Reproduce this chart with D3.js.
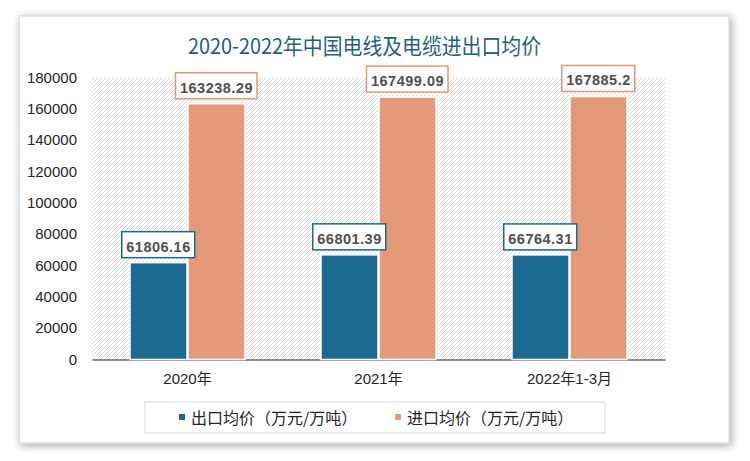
<!DOCTYPE html>
<html><head><meta charset="utf-8">
<script src="https://cdn.jsdelivr.net/npm/d3@7"></script>
<style>body{margin:0;background:#fff;}svg{display:block;}</style>
</head><body>
<svg id="c" width="750" height="461"></svg>
<script>
const title = "2020-2022年中国电线及电缆进出口均价";
const categories = ["2020年", "2021年", "2022年1-3月"];
const seriesNames = ["出口均价（万元/万吨）", "进口均价（万元/万吨）"];
const exportValues = [61806.16, 66801.39, 66764.31];
const importValues = [163238.29, 167499.09, 167885.2];
const exportLabels = ["61806.16", "66801.39", "66764.31"];
const importLabels = ["163238.29", "167499.09", "167885.2"];
const yTicks = [0, 20000, 40000, 60000, 80000, 100000, 120000, 140000, 160000, 180000];
const colors = ["#1b6a8f", "#e49a78"];

const svg = d3.select("#c");
const defs = svg.append("defs");
const f = defs.append("filter").attr("id","sh").attr("x","-10%").attr("y","-10%").attr("width","120%").attr("height","120%");
f.append("feGaussianBlur").attr("in","SourceAlpha").attr("stdDeviation",4);
f.append("feOffset").attr("dx",2).attr("dy",2).attr("result","b");
f.append("feComponentTransfer").append("feFuncA").attr("type","linear").attr("slope",0.35);
const m = f.append("feMerge"); m.append("feMergeNode"); m.append("feMergeNode").attr("in","SourceGraphic");
const pat = defs.append("pattern").attr("id","hatch").attr("patternUnits","userSpaceOnUse").attr("width",4).attr("height",4);
pat.append("rect").attr("width",4).attr("height",4).attr("fill","#fff");
pat.append("path").attr("d","M-1,1 l2,-2 M0,4 l4,-4 M3,5 l2,-2").attr("stroke","#d9d9d9").attr("stroke-width",1);

svg.append("rect").attr("x",19).attr("y",16).attr("width",710).attr("height",427)
  .attr("fill","#fff").attr("stroke","#dcdcdc").attr("stroke-width",1.5).attr("filter","url(#sh)");

svg.append("text").attr("x",364.5).attr("y",54).attr("text-anchor","middle")
  .attr("font-family","'Noto Sans CJK SC', sans-serif").attr("font-size",21.5).attr("fill","#1f5f86")
  .attr("textLength",353).attr("lengthAdjust","spacingAndGlyphs")
  .text(title);

const L=92, R=665, T=77.5, B=359.5;
const x = d3.scaleBand().domain(categories).range([L,R]);
const y = d3.scaleLinear().domain([0,180000]).range([B,T]);

svg.append("rect").attr("x",L).attr("y",T).attr("width",R-L).attr("height",B-T).attr("fill","url(#hatch)");

const yAxis = svg.append("g").attr("transform",`translate(${L},0)`)
  .call(d3.axisLeft(y).tickValues(yTicks).tickFormat(d3.format("d")).tickSize(0).tickPadding(15));
yAxis.select(".domain").remove();
yAxis.selectAll("text").attr("font-family","'Liberation Sans', Arial, sans-serif").attr("font-size",15).attr("fill","#262626");

const xAxis = svg.append("g").attr("transform",`translate(0,${B})`)
  .call(d3.axisBottom(x).tickSize(0).tickPadding(14));
xAxis.select(".domain").attr("stroke","#8c8c8c").attr("stroke-width",2);
xAxis.selectAll("text").attr("font-family","'Liberation Sans', 'Noto Sans CJK SC', sans-serif").attr("font-size",15).attr("fill","#262626");

const bw = 57;
const series = [exportValues, importValues];
const labels = [exportLabels, importLabels];
const barX = (i, s) => x(categories[i]) + x.bandwidth()/2 + (s===0 ? -bw-0.5 : 0.5);
series.forEach((vals, s) => {
  svg.append("g").selectAll("rect").data(vals).join("rect")
    .attr("x",(d,i)=> barX(i,s))
    .attr("y",d=>y(d)).attr("width",bw).attr("height",d=>B-y(d))
    .attr("fill",colors[s]).attr("stroke","#fff").attr("stroke-width",1.5);
});
series.forEach((vals, s) => {
  vals.forEach((d,i)=>{
    const cx = barX(i,s) + bw/2;
    const g = svg.append("g");
    const box = g.append("rect");
    const t = g.append("text").attr("x",cx).attr("y",y(d)-11).attr("text-anchor","middle")
      .attr("font-family","'Liberation Sans', Arial, sans-serif").attr("font-weight","bold").attr("font-size",14.5)
      .attr("letter-spacing",0.5).attr("fill","#505050")
      .text(labels[s][i]);
    const bb = t.node().getBBox();
    box.attr("x",bb.x-4.5).attr("y",y(d)-31).attr("width",bb.width+8.5).attr("height",26)
      .attr("fill","#fff").attr("stroke",colors[s]).attr("stroke-width",1.5);
  });
});

// legend
svg.append("rect").attr("x",145).attr("y",402).attr("width",460).attr("height",31).attr("fill","#fff").attr("stroke","#d9d9d9").attr("stroke-width",1);
const legX = [179, 395];
seriesNames.forEach((n,i)=>{
  svg.append("rect").attr("x",legX[i]).attr("y",414).attr("width",6).attr("height",6).attr("fill",colors[i]);
  svg.append("text").attr("x",legX[i]+12).attr("y",423.5).attr("font-family","'Noto Sans CJK SC', sans-serif")
    .attr("font-size",16).attr("fill","#262626").text(n);
});
</script>
</body></html>
